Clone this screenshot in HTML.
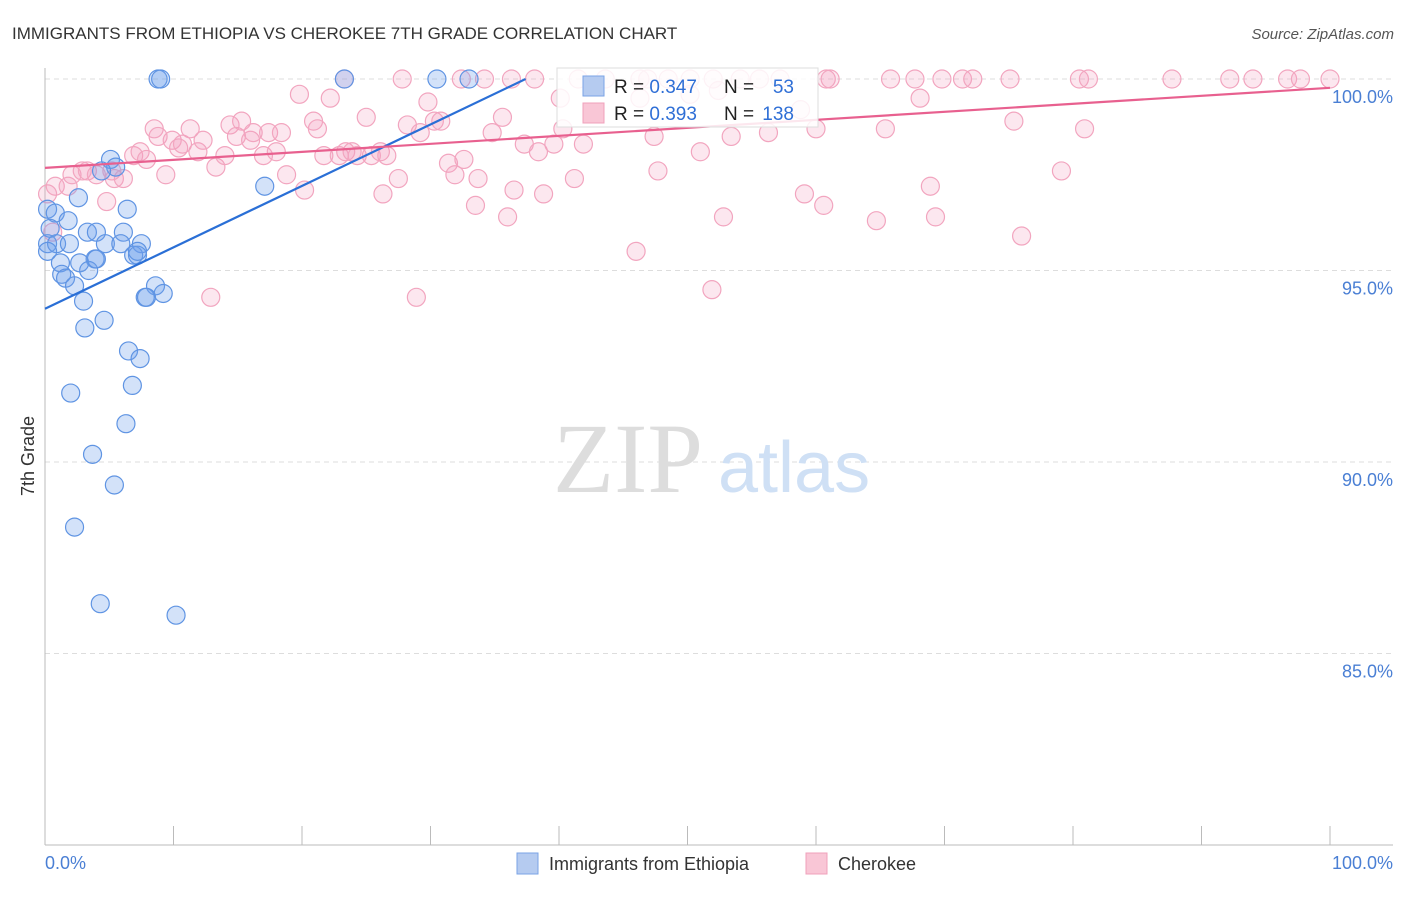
<!DOCTYPE html>
<html><head><meta charset="utf-8">
<style>
body{margin:0;background:#fff;width:1406px;height:892px;overflow:hidden;font-family:"Liberation Sans",sans-serif}
</style></head>
<body>
<svg width="1406" height="892" xmlns="http://www.w3.org/2000/svg">
<text x="12" y="39" font-size="17" fill="#333">IMMIGRANTS FROM ETHIOPIA VS CHEROKEE 7TH GRADE CORRELATION CHART</text>
<text x="1394" y="39" font-size="15" fill="#555" text-anchor="end" font-style="italic">Source: ZipAtlas.com</text>
<g id="grid"></g>
<g>
<text x="553" y="492" font-family="Liberation Serif,serif" font-size="100" fill="#ddd">ZIP</text>
<text x="718" y="492" font-size="72" fill="#cfe0f5">atlas</text>
</g>
<line x1="45" y1="68" x2="45" y2="845" stroke="#bbb"/>
<line x1="45" y1="845" x2="1393" y2="845" stroke="#bbb"/>
<g id="xticks"></g>
<text x="45" y="869" font-size="18" fill="#4a7fd4">0.0%</text>
<text x="1393" y="869" font-size="18" fill="#4a7fd4" text-anchor="end">100.0%</text>
<text transform="translate(34,456) rotate(-90)" font-size="18" fill="#333" text-anchor="middle">7th Grade</text>
<g id="pink"></g>
<g id="blue"></g>
<g id="lines"></g>
<g>
<rect x="557" y="68" width="261" height="59" fill="#fff" fill-opacity="0.85" stroke="#ddd"/>
<rect x="583" y="76" width="21" height="20" fill="#b5cbf0" stroke="#7aa3e6"/>
<rect x="583" y="103" width="21" height="20" fill="#f9c6d6" stroke="#f0a0bb"/>
<text x="614" y="93" font-size="19" fill="#222">R = <tspan fill="#2f6fd6">0.347</tspan></text>
<text x="724" y="93" font-size="19" fill="#222">N = </text><text x="794" y="93" font-size="19" fill="#2f6fd6" text-anchor="end">53</text>
<text x="614" y="120" font-size="19" fill="#222">R = <tspan fill="#2f6fd6">0.393</tspan></text>
<text x="724" y="120" font-size="19" fill="#222">N = </text><text x="794" y="120" font-size="19" fill="#2f6fd6" text-anchor="end">138</text>
</g>
<g>
<rect x="517" y="853" width="21" height="21" fill="#b5cbf0" stroke="#7aa3e6"/>
<text x="549" y="870" font-size="18" fill="#333">Immigrants from Ethiopia</text>
<rect x="806" y="853" width="21" height="21" fill="#f9c6d6" stroke="#f0a0bb"/>
<text x="838" y="870" font-size="18" fill="#333">Cherokee</text>
</g>
</svg>
<script>
const yTicks=[100,95,90,85];
const yTickLabels=["100.0%","95.0%","90.0%","85.0%"];
const blueX=[8.8,9.0,23.3,30.5,33.0,5.1,5.5,4.4,0.2,0.8,1.8,2.6,6.4,17.1,0.4,0.2,0.9,1.9,3.3,4.0,6.1,4.7,5.9,7.5,1.2,2.7,3.9,6.9,7.2,1.3,1.6,3.4,2.3,8.6,7.8,7.9,9.2,3.0,4.6,3.1,6.5,7.4,6.8,2.0,6.3,3.7,5.4,2.3,4.3,10.2,0.2,7.2,4.0];
const blueY=[100,100,100,100,100,97.9,97.7,97.6,96.6,96.5,96.3,96.9,96.6,97.2,96.1,95.7,95.7,95.7,96.0,96.0,96.0,95.7,95.7,95.7,95.2,95.2,95.3,95.4,95.4,94.9,94.8,95.0,94.6,94.6,94.3,94.3,94.4,94.2,93.7,93.5,92.9,92.7,92.0,91.8,91.0,90.2,89.4,88.3,86.3,86.0,95.5,95.5,95.3];
const pinkX=[23.3,27.8,32.4,34.2,36.3,38.1,41.5,43.6,46.3,46.9,48.5,50.2,52.0,54.1,55.6,57.2,60.8,61.1,65.8,67.7,69.8,71.4,72.2,75.1,80.5,81.2,87.7,92.2,94.0,96.7,97.7,100,
0.2,0.8,1.8,0.6,2.1,2.9,3.3,4.0,4.8,5.4,6.1,5.2,6.9,7.4,7.9,8.5,8.8,9.4,9.9,10.4,10.7,11.3,11.9,12.3,12.9,13.3,14.0,14.4,14.9,15.3,16.0,16.2,17.0,17.4,18.0,18.4,18.8,19.8,20.2,20.9,21.2,21.7,22.2,22.9,23.4,23.9,24.3,25.0,25.4,26.1,26.3,26.6,27.5,28.2,28.9,29.2,29.8,30.3,30.8,31.4,31.9,32.6,33.5,33.7,34.8,35.6,36.0,36.5,37.3,38.4,38.8,39.6,40.3,41.2,41.9,46.0,47.4,47.7,51.0,51.9,52.8,53.4,56.3,59.1,60.0,60.6,64.7,65.4,68.1,68.9,69.3,75.4,76.0,79.1,80.9,58.8,50.2,52.4,46.3,40.1];
const pinkY=[100,100,100,100,100,100,100,100,100,100,100,100,100,100,100,100,100,100,100,100,100,100,100,100,100,100,100,100,100,100,100,100,
97.0,97.2,97.2,96.0,97.5,97.6,97.6,97.5,96.8,97.4,97.4,97.6,98.0,98.1,97.9,98.7,98.5,97.5,98.4,98.2,98.3,98.7,98.1,98.4,94.3,97.7,98.0,98.8,98.5,98.9,98.4,98.6,98.0,98.6,98.1,98.6,97.5,99.6,97.1,98.9,98.7,98.0,99.5,98.0,98.1,98.1,98.0,99.0,98.0,98.1,97.0,98.0,97.4,98.8,94.3,98.6,99.4,98.9,98.9,97.8,97.5,97.9,96.7,97.4,98.6,99.0,96.4,97.1,98.3,98.1,97.0,98.3,98.7,97.4,98.3,95.5,98.5,97.6,98.1,94.5,96.4,98.5,98.6,97.0,98.7,96.7,96.3,98.7,99.5,97.2,96.4,98.9,95.9,97.6,98.7,99.2,99.6,99.7,99.5,99.5];
const blueTrend=[0,94.0,37.4,100];
const pinkTrend=[0,97.68,100,99.77];
const NS="http://www.w3.org/2000/svg";
const sx=v=>45+v*12.85, sy=v=>79+(100-v)*38.3;
const grid=document.getElementById('grid');
yTicks.forEach((t,i)=>{
 const l=document.createElementNS(NS,'line');
 l.setAttribute('x1',45);l.setAttribute('x2',1393);l.setAttribute('y1',sy(t));l.setAttribute('y2',sy(t));
 l.setAttribute('stroke','#ddd');l.setAttribute('stroke-dasharray','5,4');
 
 
 grid.appendChild(l);
 const tx=document.createElementNS(NS,'text');
 tx.setAttribute('x',1393);tx.setAttribute('y',sy(t)+24);tx.setAttribute('text-anchor','end');
 tx.setAttribute('font-size','18');tx.setAttribute('fill','#4a7fd4');tx.textContent=yTickLabels[i];
 
 
 grid.appendChild(tx);
});
const xt=document.getElementById('xticks');
for(let i=0;i<=10;i++){
 const l=document.createElementNS(NS,'line');
 l.setAttribute('x1',sx(i*10));l.setAttribute('x2',sx(i*10));l.setAttribute('y1',826);l.setAttribute('y2',845);
 l.setAttribute('stroke','#bbb');
 
 
 xt.appendChild(l);
}
function pts(g,X,Y,fill,stroke,name){
 X.forEach((x,i)=>{
  const c=document.createElementNS(NS,'circle');
  c.setAttribute('cx',sx(x));c.setAttribute('cy',sy(Y[i]));c.setAttribute('r',9);
  c.setAttribute('fill',fill);c.setAttribute('stroke',stroke);c.setAttribute('stroke-width','1.2');
  
  
  g.appendChild(c);
 });
}
pts(document.getElementById('pink'),pinkX,pinkY,'rgba(245,160,190,0.25)','#f2a5bf','cherokee-point');
pts(document.getElementById('blue'),blueX,blueY,'rgba(110,160,235,0.3)','#5f94e3','ethiopia-point');
const lg=document.getElementById('lines');
[[blueTrend,'#2a6fd6','ethiopia-trend-line'],[pinkTrend,'#e8608f','cherokee-trend-line']].forEach(([t,c,n])=>{
 const l=document.createElementNS(NS,'line');
 l.setAttribute('x1',sx(t[0]));l.setAttribute('y1',sy(t[1]));l.setAttribute('x2',sx(t[2]));l.setAttribute('y2',sy(t[3]));
 l.setAttribute('stroke',c);l.setAttribute('stroke-width','2.2');
 
 
 lg.appendChild(l);
});
</script>
</body></html>
